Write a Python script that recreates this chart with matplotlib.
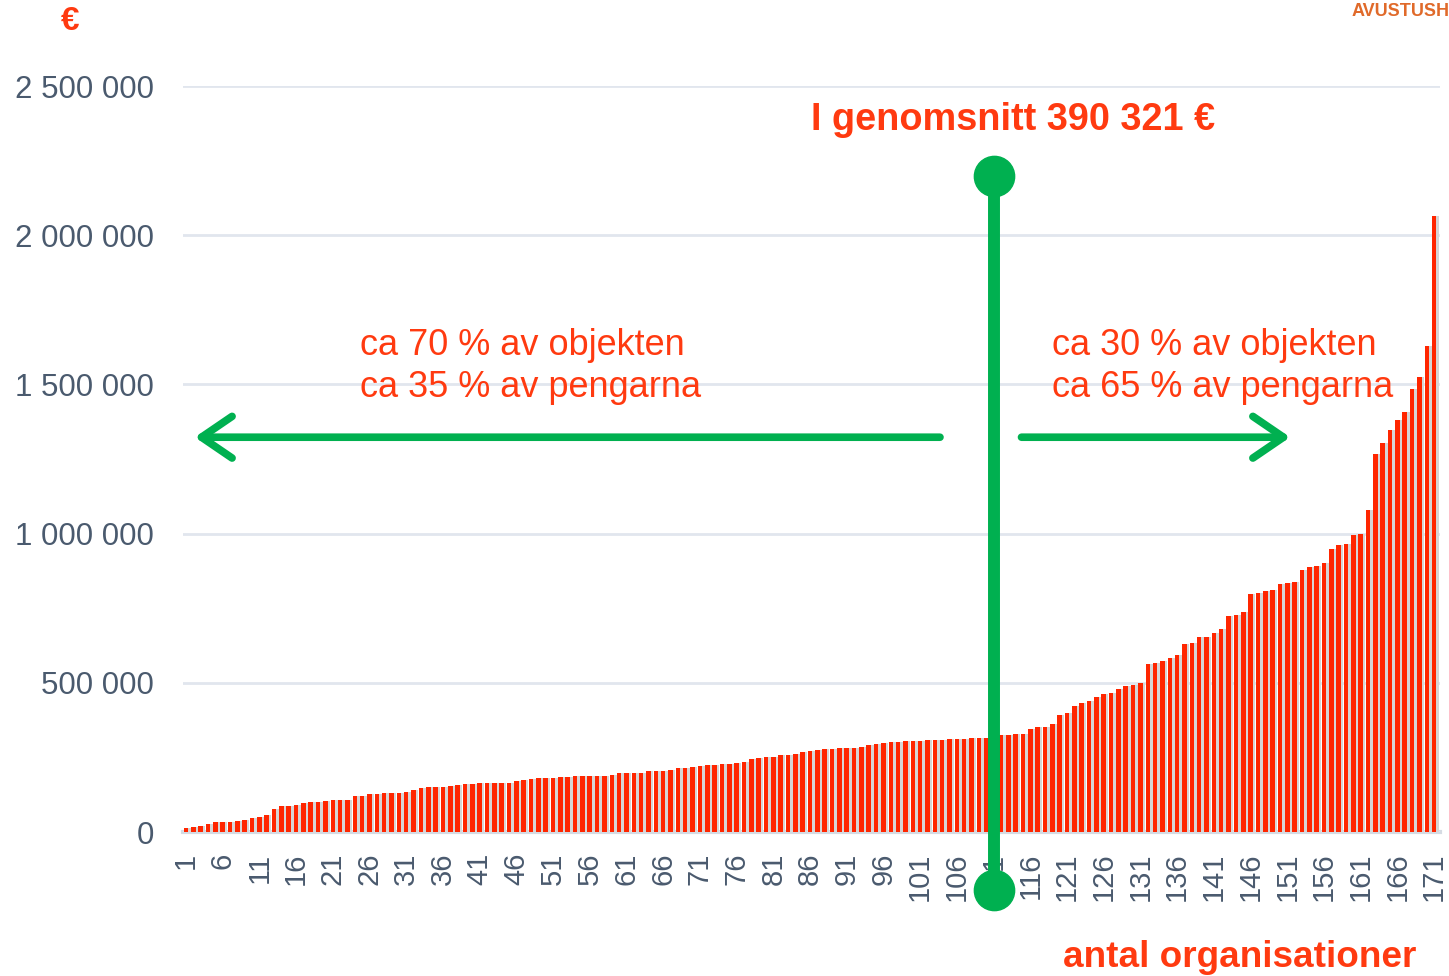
# encoding: utf-8
# brief : bidrag per organisation, sorterat, med genomsnittslinje

import numpy as np
import matplotlib
matplotlib.use('Agg')
import matplotlib.pyplot as plt

plt.rcParams['font.family'] = ['Liberation Sans', 'DejaVu Sans']

# bidrag i tusen euro, org 1..171 (sorterat)
values_low = [13, 17, 20, 27, 33, 33, 33, 37, 40, 47,
              50, 57, 77, 87, 87, 90, 97, 100, 100, 104,
              107, 107, 107, 121, 121, 127, 127, 131, 131, 131,
              134, 141, 147, 151, 151, 151, 154, 157, 161, 161,
              164, 164, 164, 164, 164, 171, 174, 178, 181, 181,
              181, 184, 184, 188, 188, 188, 188]
values_mid = [188, 191, 198, 198, 198, 198, 204, 204, 204, 208,
              214, 214, 218, 221, 224, 224, 228, 228, 231, 235,
              245, 248, 251, 251, 258, 258, 261, 268, 271, 275,
              278, 278, 281, 281, 281, 285, 292, 295, 298, 302,
              302, 305, 305, 305, 308, 308, 308, 312, 312, 312,
              315, 315, 315, 318]
values_high = [324, 324, 327, 327, 344, 351, 351, 361, 391, 398,
               421, 431, 438, 451, 461, 465, 478, 488, 492, 498,
               562, 565, 572, 582, 592, 629, 632, 652, 652, 666,
               679, 723, 726, 736, 796, 800, 807, 810, 830, 833,
               837, 877, 887, 890, 900, 947, 961, 964, 994, 998,
               1078, 1268, 1302, 1348, 1380, 1406, 1486, 1524, 1630, 2063]

orgs = np.arange(1, 172)
x_ticks = list(range(1, 172, 5))
y_ticks = [0, 500000, 1000000, 1500000, 2000000, 2500000]
y_labels = ['0', '500 000', '1 000 000', '1 500 000', '2 000 000', '2 500 000']

mean_org = 111.1
mean_label = 'I genomsnitt 390 321 €'
left_text = 'ca 70 % av objekten\nca 35 % av pengarna'
right_text = 'ca 30 % av objekten\nca 65 % av pengarna'

red = '#ff2600'
txt_red = '#ff3a10'
green = '#00b050'
slate = '#4a5a6e'

values = np.array(values_low + values_mid + values_high, dtype=float) * 1000

fig = plt.figure(figsize=(14.49, 9.76), dpi=100)
ax = fig.add_axes([183 / 1449, 1 - 832 / 976, (1440 - 183) / 1449, (832 - 86) / 976])

# skugga + staplar
ax.bar(orgs + 0.3, values, width=0.7, color='#d6d6d6', zorder=1)
ax.bar(orgs, values, width=0.62, color=red, zorder=2)

ax.set_xlim(0.6, 171.8)
ax.set_ylim(0, 2500000)
for s in ax.spines.values():
    s.set_visible(False)
ax.yaxis.grid(True, color='#e1e6ee', lw=2)
ax.set_axisbelow(True)
ax.axhline(0, color='#d5dbe3', lw=3, zorder=0, clip_on=False)

ax.set_yticks(y_ticks)
ax.set_yticklabels(y_labels, fontsize=22.5, color=slate)
ax.set_xticks(x_ticks)
ax.set_xticklabels([str(t) for t in x_ticks], rotation=90, fontsize=21, color=slate)
ax.tick_params(axis='y', length=0, pad=21)
ax.tick_params(axis='x', length=0, pad=15)

# genomsnittslinje
ax.plot([mean_org, mean_org], [2200000, -194000], color=green, lw=8.6,
        solid_capstyle='butt', clip_on=False, zorder=5)
ax.plot([mean_org, mean_org], [2200000, -194000], 'o', color=green, ms=29,
        clip_on=False, zorder=6)

# pilar
arrow = dict(arrowstyle='->,head_length=1.1,head_width=0.75', lw=5.5, color=green,
             capstyle='round', joinstyle='round', mutation_scale=20, shrinkA=0, shrinkB=0)
ax.annotate('', xy=(2.2, 1323000), xytext=(103.7, 1323000), arrowprops=arrow)
ax.annotate('', xy=(151.4, 1323000), xytext=(114.8, 1323000), arrowprops=arrow)

ax.text(24.7, 1560000, left_text, fontsize=26, color=txt_red, ha='left', va='center',
        linespacing=1.27)
ax.text(119.0, 1560000, right_text, fontsize=26, color=txt_red, ha='left', va='center',
        linespacing=1.27)
ax.text(113.7, 2386000, mean_label, fontsize=27.3, fontweight='bold', color=txt_red,
        ha='center', va='center')

fig.text(70 / 1449, 1 - 22 / 976, '€', fontsize=24, fontweight='bold', color=txt_red,
         ha='center', va='center')
fig.text(1352 / 1449, 1 - 11 / 976, 'AVUSTUSH', fontsize=13, fontweight='bold',
         color='#e06a2a', ha='left', va='center')
fig.text(1063 / 1449, 1 - 967 / 976, 'antal organisationer', fontsize=26.6, fontweight='bold',
         color=txt_red, ha='left', va='baseline')

fig.savefig('out.png', dpi=100)
